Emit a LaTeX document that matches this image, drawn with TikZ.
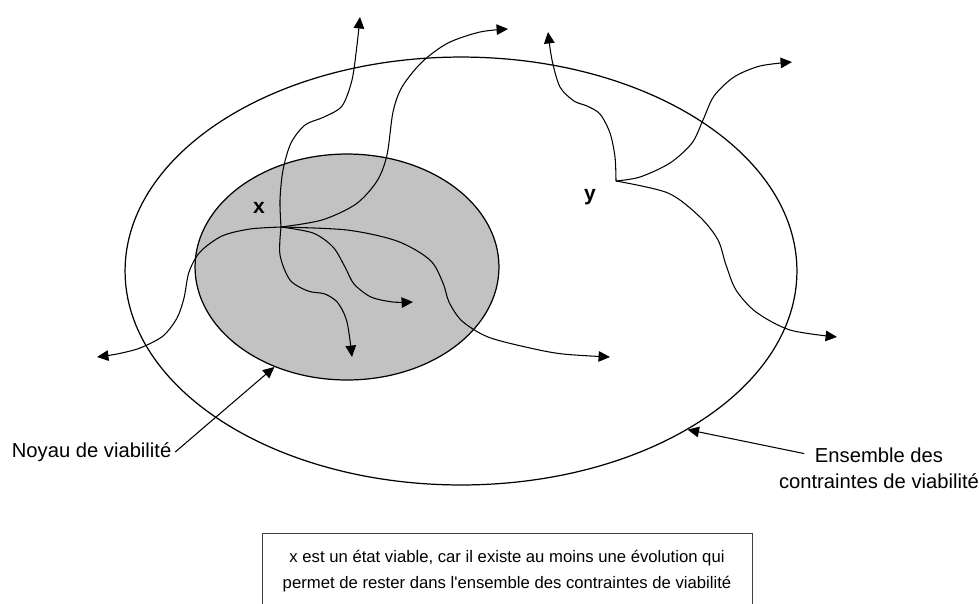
\documentclass[tikz,border=0pt]{standalone}
\usepackage{fontspec}
\setmainfont{Liberation Sans}
\newfontfamily\plainarial{Liberation Sans}
\usetikzlibrary{arrows.meta,positioning,shapes.geometric}

\begin{document}
\begin{tikzpicture}[x=0.02cm,y=-0.02cm,
    traj/.style={line width=0.6pt,-{Triangle[length=6.5pt,width=6pt]}},
    lbl/.style={font=\fontsize{11.5}{14}\selectfont,inner sep=2pt},
    pointlbl/.style={font=\fontsize{12}{14}\selectfont\bfseries,inner sep=0pt}]
\useasboundingbox (0,0) rectangle (979,603);
% ensemble des contraintes et noyau
\node[ellipse,draw,line width=0.7pt,inner sep=0pt,minimum width=13.44cm,minimum height=8.56cm] (ens) at (461,271) {};
\node[ellipse,draw,line width=0.7pt,fill=black!24,inner sep=0pt,minimum width=6.08cm,minimum height=4.52cm] (noyau) at (347,267) {};
% etats
\coordinate (px) at (281,227);
\coordinate (py) at (616,181);
\node[pointlbl] (lblx) at (259,208) {x};
\node[pointlbl] (lbly) at (590,197) {y};
% evolutions depuis x
\draw[traj] plot[smooth] coordinates {(px) (280,200) (283,170) (291,143) (305,125) (324,117) (342,106) (352,80) (357,45) (360,17)};
\draw[traj] plot[smooth] coordinates {(px) (280,255) (290,280) (308,291) (325,294) (338,303) (347,322) (352,357)};
\draw[traj] plot[smooth] coordinates {(px) (322,220) (356,204) (377,181) (387,155) (393,112) (402,87) (422,62) (448,43) (480,32) (508,29)};
\draw[traj] plot[smooth] coordinates {(px) (250,229) (222,236) (200,252) (189,272) (184,298) (177,318) (163,336) (140,348) (117,354) (97,357)};
\draw[traj] plot[smooth] coordinates {(px) (313,233) (333,247) (345,267) (354,284) (371,297) (393,302) (413,302)};
\draw[traj] plot[smooth] coordinates {(px) (347,230) (397,241) (430,260) (443,283) (449,302) (462,321) (488,337) (530,348) (563,354) (610,357)};
% evolutions depuis y
\draw[traj] plot[smooth] coordinates {(py) (615,157) (610,133) (600,114) (587,106) (574,101) (560,87) (552,60) (548,32)};
\draw[traj] plot[smooth] coordinates {(py) (640,177) (670,163) (692,143) (703,120) (714,96) (734,77) (760,66) (792,62)};
\draw[traj] plot[smooth] coordinates {(py) (668,193) (700,217) (718,240) (726,265) (736,290) (756,312) (790,330) (837,337)};
% legendes
\node[lbl,anchor=west] (lblnoyau) at (8,452) {Noyau de viabilité};
\draw[traj] (lblnoyau.east) -- (noyau.234);
\node[lbl] (lblens) at (879,455) {Ensemble des};
\node[lbl,anchor=base] (lblens2) at ([yshift=-0.52cm]lblens.base) {contraintes de viabilité};
\draw[traj,shorten <=4pt] (lblens.west) -- (ens.-35);
\node[draw=black!75,line width=0.5pt,align=center,font=\plainarial\fontsize{9.5}{14.8}\selectfont,
      minimum width=9.8cm,minimum height=1.5cm] (note) at (507,571)
  {x est un état viable, car il existe au moins une évolution qui\\permet de rester dans l'ensemble des contraintes de viabilité};
\end{tikzpicture}
\end{document}
